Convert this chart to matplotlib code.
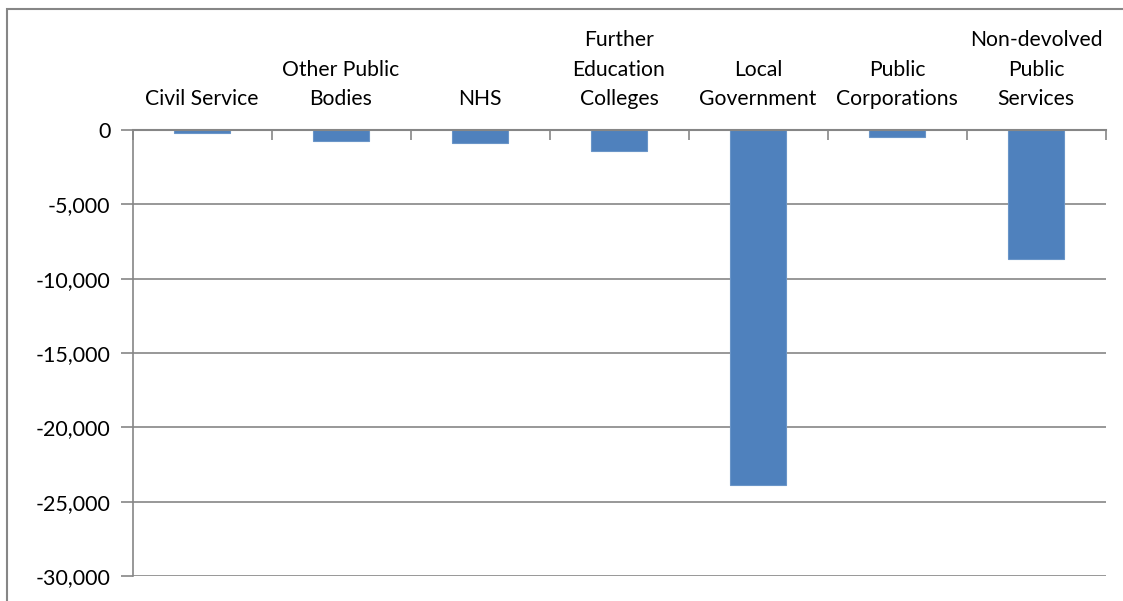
import matplotlib
matplotlib.use("Agg")
import matplotlib.pyplot as plt
from matplotlib.ticker import FuncFormatter, FixedLocator
from matplotlib.patches import Rectangle

categories = ["Civil Service", "Other Public\nBodies", "NHS", "Further\nEducation\nColleges",
              "Local\nGovernment", "Public\nCorporations", "Non-devolved\nPublic\nServices"]
values = [-200, -750, -850, -1400, -23900, -500, -8700]
yticks = [0, -5000, -10000, -15000, -20000, -25000, -30000]

plt.rcParams['font.family'] = ['Lato', 'DejaVu Sans']
grey = '#868686'

fig = plt.figure(figsize=(11.23, 6.01), dpi=100)
ax = fig.add_axes([132.5/1123, 1-576/601, (1105.5-132.5)/1123, (576-130)/601])

x = list(range(len(categories)))
ax.bar(x, values, width=0.4, color='#4F81BD', edgecolor='#6A95C8', linewidth=0.8, zorder=3)

ax.set_xlim(-0.5, len(categories)-0.5)
ax.set_ylim(-30000, 0)
ax.yaxis.set_major_locator(FixedLocator(yticks))
ax.yaxis.set_major_formatter(FuncFormatter(lambda v, p: f"{int(v):,}".replace('\u2212', '-')))
ax.grid(axis='y', color=grey, linewidth=1.2, zorder=0)

for s in ['right', 'bottom']:
    ax.spines[s].set_visible(False)
ax.spines['top'].set_color(grey)
ax.spines['top'].set_linewidth(1.5)
ax.spines['top'].set_zorder(4)
ax.spines['left'].set_color(grey)
ax.spines['left'].set_linewidth(1.2)

ax.tick_params(axis='y', direction='out', length=9, width=1.2, color=grey, labelsize=15.5, pad=7)

ax.xaxis.tick_top()
ax.set_xticks(x)
ax.set_xticklabels(categories, fontsize=15.2, linespacing=1.6)
ax.tick_params(axis='x', which='major', length=0, pad=15)
ax.set_xticks([i + 0.5 for i in range(-1, len(categories))], minor=True)
ax.tick_params(axis='x', which='minor', direction='in', length=7, width=1.2, color=grey, top=True)

fig.patches.append(Rectangle((7/1123, -1), 2, 1 - 9/601 + 1, transform=fig.transFigure,
                             fill=False, edgecolor=grey, linewidth=1.5))

fig.savefig("out.png", dpi=100)
